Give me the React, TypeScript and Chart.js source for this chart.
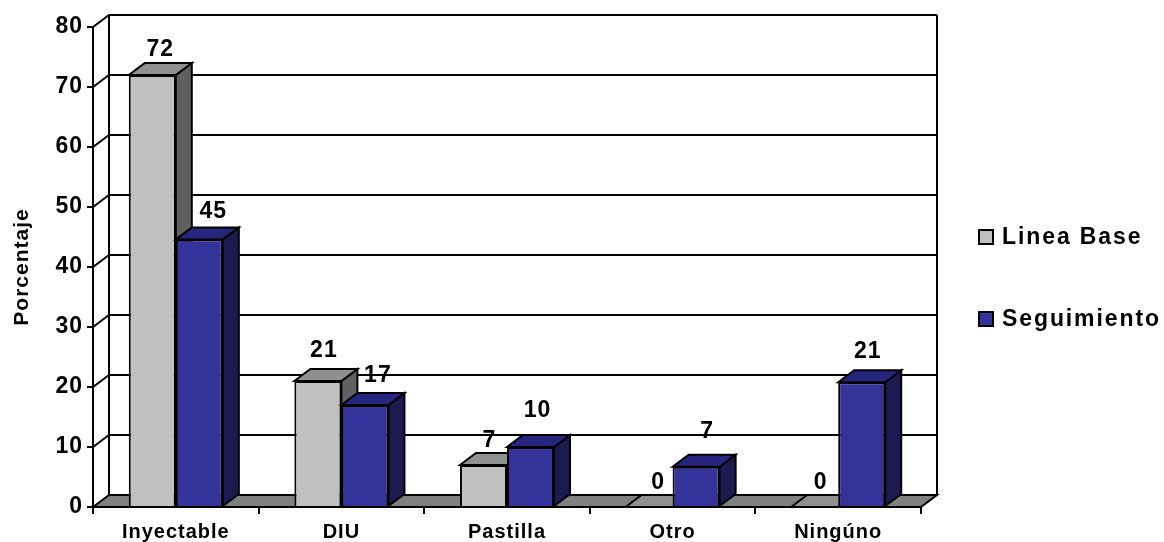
import React, { useEffect, useRef } from "react";
import { Chart, registerables } from "chart.js";

Chart.register(...registerables);

const categories = ["Inyectable", "DIU", "Pastilla", "Otro", "Ningúno"];
const lineaBase = [72, 21, 7, 0, 0];
const seguimiento = [44.6, 17, 10, 6.7, 20.8];
const baseLabels = ["72", "21", "7", "0", "0"];
const seguimientoLabels = ["45", "17", "10", "7", "21"];
const yTicks = [0, 10, 20, 30, 40, 50, 60, 70, 80];

const FONT = '"Liberation Sans", Arial, sans-serif';
const DX = 16;
const DY = -12;
const LW = 2;
const colors = [
  { front: "#C0C0C0", top: "#909090", side: "#606060" },
  { front: "#333399", top: "#26267F", side: "#1B1B52" },
];
// hand-placed label nudges relative to each bar's top centre, per series
const labelNudge = [
  [[8, -25], [6, -30], [6, -24], [9, -24], [6, -24]],
  [[14, -28], [13, -29], [7, -36], [11, -35], [6, -31]],
];

function poly(ctx: CanvasRenderingContext2D, pts: number[][], fill: string) {
  ctx.beginPath();
  pts.forEach((p, i) => (i ? ctx.lineTo(p[0], p[1]) : ctx.moveTo(p[0], p[1])));
  ctx.closePath();
  ctx.fillStyle = fill;
  ctx.fill();
  ctx.stroke();
}

const threeD = {
  id: "threeD",
  beforeDraw(chart: any) {
    chart.ctx.letterSpacing = "1px";
  },
  beforeDatasetsDraw(chart: any) {
    const { ctx, chartArea: a, scales } = chart;
    const y = scales.y;
    ctx.save();
    ctx.strokeStyle = "#000";
    ctx.lineWidth = LW;
    // floor
    poly(
      ctx,
      [
        [a.left, a.bottom],
        [a.left + DX, a.bottom + DY],
        [a.right + DX, a.bottom + DY],
        [a.right, a.bottom],
      ],
      "#808080"
    );
    // back wall lines
    ctx.beginPath();
    yTicks.forEach((t) => {
      const py = y.getPixelForValue(t);
      if (t > 0) {
        ctx.moveTo(a.left, py);
        ctx.lineTo(a.left + DX, py + DY);
        ctx.lineTo(a.right + DX, py + DY);
      }
    });
    ctx.moveTo(a.left + DX, a.bottom + DY);
    ctx.lineTo(a.left + DX, a.top + DY);
    ctx.moveTo(a.right + DX, a.bottom + DY);
    ctx.lineTo(a.right + DX, a.top + DY);
    ctx.stroke();
    // bars: series drawn first to last, each with depth faces behind its front
    [0, 1].forEach((d) => {
      const meta = chart.getDatasetMeta(d);
      const c = colors[d];
      meta.data.forEach((bar: any) => {
        const p = bar.getProps(["x", "y", "base", "width"], true);
        const l = p.x - p.width / 2;
        const r = p.x + p.width / 2;
        poly(
          ctx,
          [
            [r, p.y],
            [r + DX, p.y + DY],
            [r + DX, p.base + DY],
            [r, p.base],
          ],
          c.side
        );
        poly(
          ctx,
          [
            [l, p.y],
            [l + DX, p.y + DY],
            [r + DX, p.y + DY],
            [r, p.y],
          ],
          c.top
        );
      });
      meta.controller.draw();
    });
    ctx.restore();
  },
  beforeDatasetDraw() {
    return false;
  },
  afterDatasetsDraw(chart: any) {
    const { ctx } = chart;
    ctx.save();
    ctx.fillStyle = "#000";
    ctx.font = `bold 23px ${FONT}`;
    ctx.textAlign = "center";
    ctx.textBaseline = "middle";
    ctx.letterSpacing = "1px";
    const texts = [baseLabels, seguimientoLabels];
    [0, 1].forEach((d) => {
      chart.getDatasetMeta(d).data.forEach((bar: any, i: number) => {
        const n = labelNudge[d][i];
        ctx.fillText(texts[d][i], bar.x + n[0], bar.y + n[1]);
      });
    });
    // legend
    ctx.textAlign = "left";
    ctx.letterSpacing = "1.9px";
    ctx.strokeStyle = "#000";
    ctx.lineWidth = LW;
    [237, 319].forEach((cy, d) => {
      ctx.fillStyle = colors[d].front;
      ctx.fillRect(979, cy - 7, 14, 14);
      ctx.strokeRect(979, cy - 7, 14, 14);
      ctx.fillStyle = "#000";
      ctx.fillText(chart.data.datasets[d].label, 1002, cy + 1);
    });
    // y axis title
    ctx.translate(22, 267);
    ctx.rotate(-Math.PI / 2);
    ctx.textAlign = "center";
    ctx.letterSpacing = "1px";
    ctx.font = `bold 21px ${FONT}`;
    ctx.fillText("Porcentaje", 0, 0);
    ctx.restore();
  },
};

export default function App() {
  const ref = useRef<HTMLCanvasElement>(null);
  useEffect(() => {
    const chart = new Chart(ref.current!, {
      type: "bar",
      data: {
        labels: categories,
        datasets: [
          {
            label: "Linea Base",
            data: lineaBase,
            backgroundColor: colors[0].front,
            borderColor: "#000",
            borderWidth: 2,
            clip: false,
          },
          {
            label: "Seguimiento",
            data: seguimiento,
            backgroundColor: colors[1].front,
            borderColor: "#000",
            borderWidth: 2,
            clip: false,
          },
        ] as any,
      },
      options: {
        responsive: false,
        animation: false,
        layout: { padding: { left: 0, top: 27, right: 243, bottom: 0 } },
        plugins: { legend: { display: false }, title: { display: false }, tooltip: { enabled: false } },
        datasets: { bar: { barPercentage: 1, categoryPercentage: 0.568 } },
        scales: {
          x: {
            offset: true,
            grid: { drawOnChartArea: false, drawTicks: true, tickLength: 7, color: "#000", lineWidth: 2 },
            border: { color: "#000", width: 2 },
            ticks: { color: "#000", font: { family: FONT, weight: "bold", size: 20 }, padding: 6, maxRotation: 0 },
            afterFit: (s: any) => {
              s.height = 35;
            },
          },
          y: {
            min: 0,
            max: 80,
            grid: { drawOnChartArea: false, drawTicks: true, tickLength: 6, color: "#000", lineWidth: 2 },
            border: { color: "#000", width: 2 },
            ticks: { stepSize: 10, color: "#000", font: { family: FONT, weight: "bold", size: 23 }, padding: 4 },
            afterFit: (s: any) => {
              s.width = 93;
            },
          },
        },
      } as any,
      plugins: [threeD],
    });
    return () => chart.destroy();
  }, []);
  return (
    <canvas
      ref={ref}
      width={1164}
      height={542}
      style={{ position: "fixed", left: 0, top: 0, display: "block", width: 1164, height: 542 }}
    />
  );
}
